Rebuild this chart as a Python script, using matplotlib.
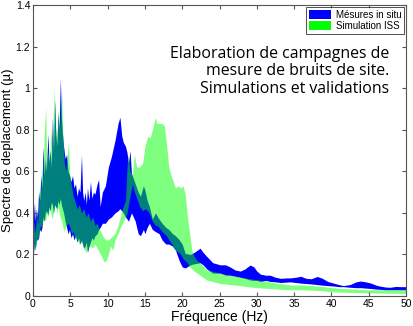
import numpy as np
import matplotlib.pyplot as plt
from matplotlib.patches import Patch

plt.rcParams['font.family'] = ['Liberation Sans', 'DejaVu Sans']

# Mesures in situ : enveloppe min / max du spectre
f_mes = [0.00, 0.10, 0.20, 0.30, 0.45, 0.60, 0.75, 0.90, 1.05, 1.20, 1.35, 1.50, 1.65,
         1.80, 2.00, 2.15, 2.30, 2.45, 2.60, 2.75, 2.90, 3.05, 3.20, 3.35, 3.50, 3.67,
         3.80, 3.95, 4.10, 4.30, 4.50, 4.70, 4.90, 5.10, 5.30, 5.50, 5.70, 5.90, 6.10,
         6.30, 6.50, 6.65, 6.80, 7.00, 7.15, 7.30, 7.50, 7.70, 7.90, 8.10, 8.30, 8.60,
         8.80, 9.00, 9.30, 9.70, 10.1, 10.5, 11.0, 11.4, 11.65, 11.9, 12.1, 12.4, 12.6,
         12.8, 13.0, 13.2, 13.7, 14.1, 14.4, 14.8, 15.0, 15.3, 15.6, 16.0, 16.4, 16.9,
         17.3, 17.8, 18.2, 18.7, 19.1, 19.6, 20.0, 20.4, 21.1, 21.6, 22.4, 22.8, 23.3,
         24.1, 25.1, 25.8, 26.4, 27.1, 27.8, 28.4, 29.1, 29.6, 30.0, 30.5, 31.2, 31.8,
         32.5, 33.2, 34.0, 34.5, 35.2, 35.9, 36.6, 37.3, 38.1, 38.8, 39.5, 40.3, 41.0,
         41.6, 42.5, 43.3, 43.9, 44.6, 45.3, 46.0, 46.6, 47.3, 47.9, 48.6, 49.3, 50.0]
mes_min = [0.18, 0.22, 0.25, 0.22, 0.27, 0.27, 0.28, 0.32, 0.31, 0.33, 0.38, 0.36, 0.40,
           0.41, 0.39, 0.43, 0.41, 0.45, 0.44, 0.40, 0.44, 0.43, 0.42, 0.46, 0.44, 0.47,
           0.44, 0.42, 0.40, 0.36, 0.33, 0.30, 0.32, 0.28, 0.30, 0.27, 0.29, 0.26, 0.28,
           0.25, 0.27, 0.25, 0.23, 0.24, 0.26, 0.21, 0.24, 0.26, 0.28, 0.27, 0.29, 0.30,
           0.32, 0.33, 0.35, 0.35, 0.37, 0.38, 0.40, 0.41, 0.42, 0.41, 0.40, 0.38, 0.37,
           0.36, 0.38, 0.40, 0.36, 0.30, 0.29, 0.32, 0.30, 0.33, 0.35, 0.32, 0.31, 0.30,
           0.27, 0.25, 0.25, 0.24, 0.22, 0.17, 0.14, 0.135, 0.15, 0.155, 0.16, 0.15, 0.13,
           0.11, 0.11, 0.10, 0.10, 0.095, 0.09, 0.085, 0.077, 0.075, 0.075, 0.07, 0.075,
           0.07, 0.068, 0.065, 0.067, 0.068, 0.065, 0.062, 0.06, 0.058, 0.055, 0.052,
           0.05, 0.048, 0.045, 0.045, 0.042, 0.04, 0.04, 0.038, 0.036, 0.033, 0.032, 0.03,
           0.03, 0.03, 0.03, 0.03]
mes_max = [0.30, 0.40, 0.45, 0.36, 0.42, 0.38, 0.50, 0.46, 0.58, 0.52, 0.72, 0.58, 0.66,
           0.60, 0.78, 0.64, 0.70, 0.62, 0.86, 0.70, 0.94, 0.78, 0.72, 0.88, 0.80, 1.05,
           0.86, 0.78, 0.72, 0.66, 0.68, 0.60, 0.58, 0.55, 0.58, 0.52, 0.54, 0.48, 0.52,
           0.50, 0.68, 0.50, 0.46, 0.50, 0.44, 0.52, 0.46, 0.55, 0.47, 0.50, 0.49, 0.54,
           0.56, 0.43, 0.50, 0.53, 0.62, 0.67, 0.75, 0.83, 0.86, 0.77, 0.74, 0.72, 0.69,
           0.64, 0.70, 0.59, 0.54, 0.50, 0.48, 0.53, 0.51, 0.46, 0.43, 0.37, 0.40, 0.37,
           0.35, 0.33, 0.32, 0.30, 0.29, 0.27, 0.25, 0.205, 0.20, 0.21, 0.23, 0.21, 0.19,
           0.16, 0.15, 0.15, 0.14, 0.125, 0.12, 0.13, 0.149, 0.14, 0.12, 0.105, 0.10, 0.10,
           0.09, 0.085, 0.087, 0.087, 0.09, 0.095, 0.085, 0.083, 0.094, 0.085, 0.07, 0.062,
           0.055, 0.05, 0.055, 0.068, 0.072, 0.068, 0.062, 0.052, 0.047, 0.043, 0.042,
           0.046, 0.045, 0.045]

# Simulation ISS : enveloppe min / max du spectre
f_sim = [0.00, 0.15, 0.30, 0.50, 0.65, 0.85, 1.00, 1.15, 1.30, 1.50, 1.70, 1.85, 2.00,
         2.20, 2.40, 2.55, 2.85, 3.00, 3.20, 3.40, 3.55, 3.85, 4.00, 4.20, 4.40, 4.75,
         4.95, 5.20, 5.40, 5.60, 5.90, 6.20, 6.50, 6.80, 7.10, 7.40, 7.70, 8.00, 8.30,
         8.60, 8.90, 9.20, 9.50, 9.80, 10.1, 10.4, 10.7, 11.0, 11.4, 11.7, 12.0, 12.4,
         12.6, 12.75, 13.0, 13.3, 13.6, 13.9, 14.3, 14.7, 15.0, 15.4, 15.7, 16.0, 16.4,
         16.6, 16.9, 17.3, 17.6, 17.9, 18.2, 18.6, 19.1, 19.5, 19.8, 20.1, 20.4, 20.7,
         21.0, 21.3, 21.6, 22.0, 22.4, 23.3, 24.0, 25.1, 26.4, 27.8, 28.7, 30.0, 31.4,
         33.0, 34.5, 36.0, 37.5, 39.0, 40.0, 42.0, 45.0, 50.0]
sim_min = [0.20, 0.24, 0.23, 0.27, 0.28, 0.30, 0.34, 0.33, 0.36, 0.37, 0.36, 0.40, 0.38,
           0.42, 0.40, 0.37, 0.42, 0.44, 0.40, 0.43, 0.39, 0.36, 0.33, 0.31, 0.34, 0.35,
           0.33, 0.30, 0.31, 0.28, 0.27, 0.25, 0.26, 0.23, 0.21, 0.23, 0.24, 0.23, 0.25,
           0.23, 0.21, 0.19, 0.165, 0.17, 0.20, 0.24, 0.22, 0.27, 0.30, 0.33, 0.35, 0.38,
           0.40, 0.43, 0.48, 0.54, 0.50, 0.47, 0.43, 0.41, 0.42, 0.41, 0.39, 0.36, 0.34,
           0.34, 0.33, 0.31, 0.30, 0.29, 0.27, 0.25, 0.22, 0.21, 0.20, 0.18, 0.17, 0.16,
           0.14, 0.13, 0.12, 0.11, 0.10, 0.077, 0.07, 0.06, 0.055, 0.05, 0.045, 0.04,
           0.037, 0.033, 0.03, 0.03, 0.028, 0.025, 0.02, 0.018, 0.015, 0.012]
sim_max = [0.26, 0.36, 0.30, 0.40, 0.34, 0.52, 0.48, 0.62, 0.56, 0.78, 0.91, 0.62, 0.70,
           0.64, 0.80, 0.70, 1.00, 0.82, 0.76, 0.90, 0.80, 0.98, 0.78, 0.64, 0.60, 0.74,
           0.58, 0.52, 0.48, 0.46, 0.42, 0.44, 0.40, 0.42, 0.38, 0.40, 0.36, 0.38, 0.34,
           0.35, 0.32, 0.30, 0.28, 0.27, 0.27, 0.28, 0.29, 0.30, 0.34, 0.38, 0.42, 0.46,
           0.62, 0.68, 0.60, 0.58, 0.68, 0.62, 0.62, 0.64, 0.72, 0.77, 0.76, 0.80, 0.86,
           0.83, 0.83, 0.83, 0.82, 0.73, 0.62, 0.57, 0.52, 0.53, 0.52, 0.53, 0.49, 0.38,
           0.30, 0.22, 0.19, 0.17, 0.16, 0.125, 0.12, 0.11, 0.10, 0.09, 0.085, 0.078, 0.07,
           0.06, 0.053, 0.053, 0.05, 0.045, 0.04, 0.035, 0.03, 0.03]

xticks = [0, 5, 10, 15, 20, 25, 30, 35, 40, 45, 50]
yticks = [0, 0.2, 0.4, 0.6, 0.8, 1.0, 1.2, 1.4]
ytick_labels = ['0', '0.2', '0.4', '0.6', '0.8', '1', '1.2', '1.4']

fig = plt.figure(figsize=(4.13, 3.26), dpi=100)
ax = fig.add_axes([33 / 413, 30 / 326, 373 / 413, 291 / 326])

ax.fill_between(f_mes, mes_min, mes_max, color=(0, 0, 1), linewidth=0)
ax.fill_between(f_sim, sim_min, sim_max, color=(0, 1, 0), alpha=0.5, linewidth=0)

ax.set_xlim(0, 50)
ax.set_ylim(0, 1.4)
ax.set_xticks(xticks)
ax.set_yticks(yticks)
ax.set_yticklabels(ytick_labels)
ax.tick_params(direction='in', top=True, right=True, labelsize=7.5, length=3,
               color='#555555', pad=2)
for s in ax.spines.values():
    s.set_color('#555555')
    s.set_linewidth(0.8)

ax.set_xlabel('Fréquence (Hz)', fontsize=10, labelpad=1)
ax.set_ylabel('Spectre de deplacement (µ)', fontsize=9.5)
ax.yaxis.set_label_coords(-0.052, 0.5)

handles = [Patch(facecolor=(0, 0, 1), edgecolor='none'),
           Patch(facecolor=(0, 1, 0), edgecolor='none')]
leg = ax.legend(handles, ['Mésures in situ', 'Simulation ISS'], loc='upper right',
                fontsize=7, frameon=True, fancybox=False, borderpad=0.3,
                handlelength=2.2, handleheight=1.0, labelspacing=0.1,
                borderaxespad=0.2, handletextpad=0.5)
leg.get_frame().set_edgecolor('black')
leg.get_frame().set_linewidth(0.6)

ax.text(0.955, 0.86, 'Elaboration de campagnes de\nmesure de bruits de site.\nSimulations et validations',
        transform=ax.transAxes, ha='right', va='top', fontsize=11.4,
        family='Open Sans', linespacing=1.12)

fig.savefig('out.png', dpi=100)
